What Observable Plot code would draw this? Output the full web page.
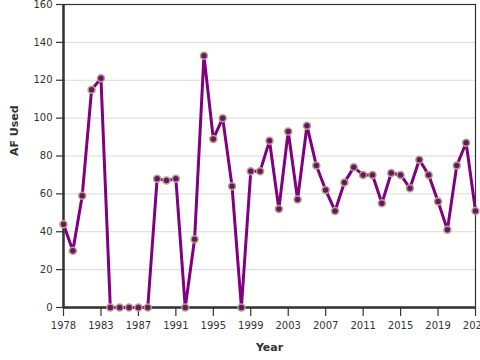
<!DOCTYPE html>
<html>
<head>
<meta charset="utf-8">
<script src="https://cdn.jsdelivr.net/npm/d3@7"></script>
<script src="https://cdn.jsdelivr.net/npm/@observablehq/plot@0.6"></script>
<style>
  html, body { margin: 0; padding: 0; background: #fff; }
  #chart { width: 480px; height: 360px; }
</style>
</head>
<body>
<div id="chart"></div>
<script>
const years = [1978, 1979, 1980, 1981, 1983, 1984, 1985, 1986, 1987, 1988, 1989, 1990, 1991, 1992, 1993, 1994, 1995, 1996, 1997, 1998, 1999, 2000, 2001, 2002, 2003, 2004, 2005, 2006, 2007, 2008, 2009, 2010, 2011, 2012, 2013, 2014, 2015, 2016, 2017, 2018, 2019, 2020, 2021, 2022, 2023];
const afUsed = [44, 30, 59, 115, 121, 0, 0, 0, 0, 0, 68, 67, 68, 0, 36, 133, 89, 100, 64, 0, 72, 72, 88, 52, 93, 57, 96, 75, 62, 51, 66, 74, 70, 70, 55, 71, 70, 63, 78, 70, 56, 41, 75, 87, 51];
const tickYears = [1978, 1983, 1987, 1991, 1995, 1999, 2003, 2007, 2011, 2015, 2019, 2023];
const yTicks = [0, 20, 40, 60, 80, 100, 120, 140, 160];

const data = years.map((y, i) => ({year: y, value: afUsed[i]}));

const chart = Plot.plot({
  width: 480,
  height: 360,
  marginTop: 4,
  marginBottom: 53,
  marginLeft: 63,
  marginRight: 5,
  style: {fontFamily: "DejaVu Sans", fontSize: "10px", color: "#333", background: "#fff"},
  x: {type: "point", domain: years, padding: 0, round: false},
  y: {domain: [0, 160]},
  marks: [
    Plot.gridY(yTicks, {stroke: "#d9d9d9", strokeOpacity: 1, strokeWidth: 1}),
    Plot.frame({stroke: "#333", strokeWidth: 1.2}),
    Plot.axisY(yTicks, {tickSize: 7, tickPadding: 4, label: null, stroke: "#333", strokeWidth: 1.2, fill: "#333"}),
    Plot.axisX(tickYears, {tickSize: 9, tickPadding: 5, label: null, tickFormat: d => String(d), stroke: "#333", strokeWidth: 1.2, fill: "#333"}),
    Plot.ruleY([0], {stroke: "#333", strokeWidth: 2.5}),
    Plot.ruleX([years[0]], {stroke: "#333", strokeWidth: 2.5}),
    Plot.line(data, {x: "year", y: "value", stroke: "#800080", strokeWidth: 3}),
    Plot.dot(data, {x: "year", y: "value", r: 3.5, fill: "#6b146b", stroke: "#b4a57f", strokeWidth: 1.5}),
    Plot.text(["AF Used"], {frameAnchor: "left", dx: -49, rotate: -90, fontWeight: "bold", fontSize: 11, fill: "#333"}),
    Plot.text(["Year"], {frameAnchor: "bottom", dy: 43, fontWeight: "bold", fontSize: 11, fill: "#333"})
  ]
});
document.getElementById("chart").appendChild(chart);
</script>
</body>
</html>
